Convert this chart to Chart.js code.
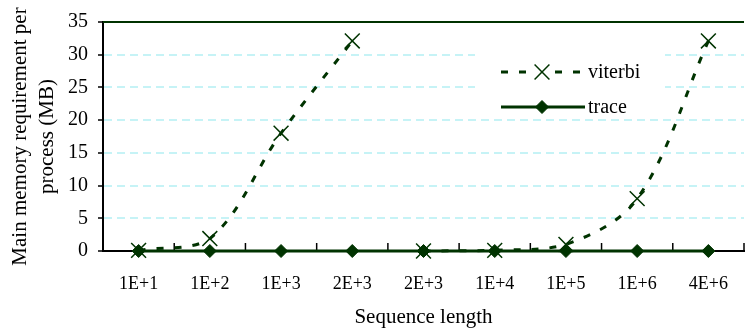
<!DOCTYPE html>
<html><head><meta charset="utf-8">
<style>
html,body{margin:0;padding:0;background:#fff;overflow:hidden;}
#wrap{width:756px;height:332px;position:relative;}
</style>
<script src="https://cdn.jsdelivr.net/npm/chart.js@4.4.1/dist/chart.umd.min.js"></script>
</head><body><div id="wrap"><canvas id="c"></canvas></div>
<script>
// ---- data ----
const categories = ['1E+1','1E+2','1E+3','2E+3','2E+3','1E+4','1E+5','1E+6','4E+6'];
const viterbi = [0.1, 1.9, 18.0, 32.1, 0.0, 0.1, 1.0, 8.0, 32.1];
const trace   = [0, 0, 0, 0, 0, 0, 0, 0, 0];
const viterbiBreakAfter = 3;               // no line between the two "2E+3" points
const yTicks = [0, 5, 10, 15, 20, 25, 30, 35];
const yAxisTitle = ['Main memory requirement per', 'process (MB)'];
const xAxisTitle = 'Sequence length';
const seriesNames = ['viterbi', 'trace'];

// ---- styling ----
const GREEN = '#003300';
const GRID = '#c6f3f6';
const FONT = "'Liberation Serif', 'Times New Roman', serif";

const viterbiA = viterbi.map((v, i) => i <= viterbiBreakAfter ? v : null);
const viterbiB = viterbi.map((v, i) => i > viterbiBreakAfter ? v : null);

const viterbiStyle = {
  borderColor: GREEN, borderWidth: 3, borderDash: [7, 11], tension: 0.35,
  pointStyle: 'crossRot', pointRadius: 10.5, pointBorderWidth: 1.5,
  pointBorderColor: GREEN, pointBackgroundColor: GREEN, spanGaps: false, clip: false
};
const traceStyle = {
  borderColor: GREEN, borderWidth: 3, tension: 0,
  pointStyle: 'rectRot', pointRadius: 6.5, pointBorderWidth: 1,
  pointBorderColor: GREEN, pointBackgroundColor: GREEN, clip: false
};

const extras = {
  id: 'extras',
  beforeDatasetsDraw(chart) {
    const {ctx, chartArea: a, scales: {x}} = chart;
    ctx.save();
    // top border of plot
    ctx.strokeStyle = GREEN; ctx.lineWidth = 2;
    ctx.beginPath(); ctx.moveTo(a.left, a.top); ctx.lineTo(a.right, a.top); ctx.stroke();
    // inside tick marks on the category axis (between categories)
    ctx.strokeStyle = '#000'; ctx.lineWidth = 1.5;
    for (let i = 1; i <= categories.length; i++) {
      const px = i < categories.length
        ? (x.getPixelForValue(i - 1) + x.getPixelForValue(i)) / 2
        : a.right;
      ctx.beginPath(); ctx.moveTo(px, a.bottom); ctx.lineTo(px, a.bottom - 8); ctx.stroke();
    }
    // legend box inside the plot
    ctx.fillStyle = '#fff';
    ctx.fillRect(475, 49, 190, 70);
    const rows = [
      {label: seriesNames[0], style: viterbiStyle, y: 72},
      {label: seriesNames[1], style: traceStyle, y: 107}
    ];
    rows.forEach(r => {
      ctx.save();
      ctx.strokeStyle = r.style.borderColor; ctx.lineWidth = r.style.borderWidth;
      ctx.setLineDash(r.style.borderDash || []);
      ctx.beginPath(); ctx.moveTo(501, r.y); ctx.lineTo(585, r.y); ctx.stroke();
      ctx.setLineDash([]);
      ctx.strokeStyle = r.style.pointBorderColor; ctx.fillStyle = r.style.pointBackgroundColor;
      ctx.lineWidth = r.style.pointBorderWidth;
      if (r.style.pointStyle === 'crossRot') {
        ctx.fillStyle = '#fff'; ctx.fillRect(533, r.y - 8, 18, 16);
      }
      Chart.helpers.drawPoint(ctx, {pointStyle: r.style.pointStyle, radius: r.style.pointRadius,
        borderWidth: r.style.pointBorderWidth, rotation: 0}, 542, r.y);
      ctx.restore();
      ctx.fillStyle = '#000'; ctx.font = '20px ' + FONT;
      ctx.textBaseline = 'middle'; ctx.textAlign = 'left';
      ctx.fillText(r.label, 588, r.y + 1);
    });
    ctx.restore();
  }
};

new Chart(document.getElementById('c'), {
  type: 'line',
  data: {
    labels: categories,
    datasets: [
      Object.assign({label: seriesNames[0], data: viterbiA}, viterbiStyle),
      Object.assign({label: seriesNames[0], data: viterbiB}, viterbiStyle),
      Object.assign({label: seriesNames[1], data: trace}, traceStyle)
    ]
  },
  options: {
    responsive: true, maintainAspectRatio: false, animation: false,
    layout: {padding: {top: 20, left: 0, right: 0, bottom: 0}},
    plugins: {legend: {display: false}, tooltip: {enabled: false}},
    scales: {
      x: {
        offset: true,
        grid: {display: false},
        border: {display: true, color: '#000', width: 2},
        ticks: {color: '#000', font: {family: FONT, size: 18}, padding: 14, maxRotation: 0, autoSkip: false},
        title: {display: true, text: xAxisTitle, color: '#000',
                font: {family: FONT, size: 21, lineHeight: 1.2}, padding: {top: 0, bottom: 2}},
        afterFit: s => { s.height = 81; }
      },
      y: {
        min: 0, max: 35,
        afterBuildTicks: s => { s.ticks = yTicks.map(v => ({value: v})); },
        grid: {
          color: c => (c.tick && (c.tick.value === 0 || c.tick.value === 35)) ? 'rgba(0,0,0,0)' : GRID,
          lineWidth: 2, tickColor: '#000', tickWidth: 1.5, tickLength: 5, tickBorderDash: []
        },
        border: {display: true, color: '#000', width: 2, dash: [8, 5]},
        ticks: {color: '#000', font: {family: FONT, size: 20}, padding: 10},
        title: {display: true, text: yAxisTitle, color: '#000',
                font: {family: FONT, size: 21, lineHeight: 1.3}, padding: {top: 7, bottom: 0}},
        afterFit: s => { s.width = 103; }
      }
    }
  },
  plugins: [extras]
});
</script>
</body></html>
